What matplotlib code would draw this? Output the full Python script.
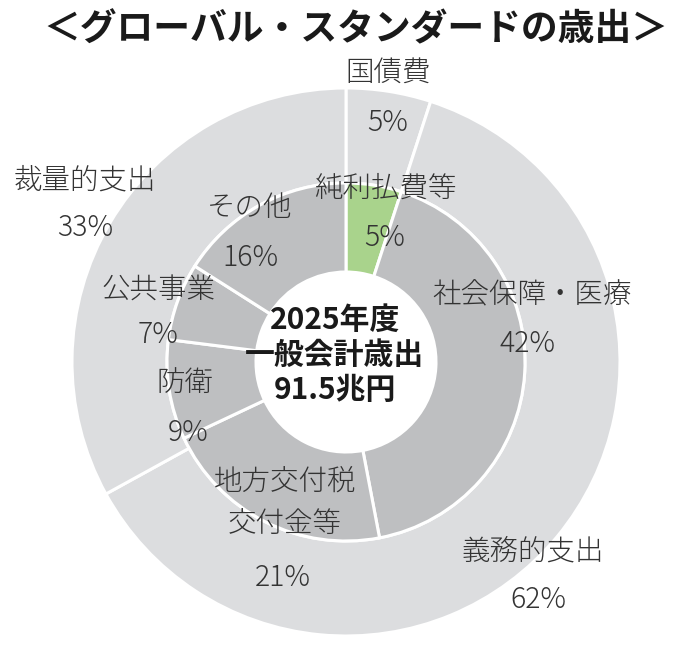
import matplotlib
matplotlib.use("Agg")
import matplotlib.pyplot as plt

plt.rcParams['font.family'] = ['Noto Sans CJK JP', 'DejaVu Sans']

# outer ring: 国債費 / 義務的支出 / 裁量的支出
outer_labels = ['国債費', '義務的支出', '裁量的支出']
outer_values = [5, 62, 33]

# inner ring
inner_labels = ['純利払費等', '社会保障・医療', '地方交付税\n交付金等', '防衛', '公共事業', 'その他']
inner_values = [5, 42, 21, 9, 7, 16]

title = '＜グローバル・スタンダードの歳出＞'
center_text = ['2025年度', '一般会計歳出', '91.5兆円']

W, H = 688, 650
fig = plt.figure(figsize=(W / 100, H / 100), dpi=100)
ax = fig.add_axes([0, 0, 1, 1])

cx, cy = 346, H - 362
r_out, r_mid, r_in = 274, 179, 90

outer_colors = ['#dcdddf'] * len(outer_values)
inner_colors = ['#a9d38c'] + ['#bebfc1'] * (len(inner_values) - 1)

ax.pie(outer_values, radius=r_out, center=(cx, cy), startangle=90, counterclock=False,
       colors=outer_colors,
       wedgeprops=dict(width=r_out - r_mid, edgecolor='white', linewidth=2.2))
ax.pie(inner_values, radius=r_mid, center=(cx, cy), startangle=90, counterclock=False,
       colors=inner_colors,
       wedgeprops=dict(width=r_mid - r_in, edgecolor='white', linewidth=2.2))

ax.set_xlim(0, W)
ax.set_ylim(0, H)
ax.set_aspect('equal')
ax.axis('off')

txt_color = '#333333'
fs = 20.5


def put(x, y, s, **kw):
    # y given in image pixels (top = 0)
    ax.text(x, H - y, s, ha='center', va='center', color=txt_color, fontsize=fs,
            fontweight='light', **kw)


# outer labels (name, value)
outer_pos = [((388, 72), (388, 123)), ((533, 551), (538, 600)), ((85, 180), (85, 228))]
for name, val, (p1, p2) in zip(outer_labels, outer_values, outer_pos):
    put(*p1, name)
    put(*p2, f'{val}%')

inner_pos = [((385, 188), (385, 238)), ((532, 295), (527, 344)),
             ((285, 503), (283, 578)), ((185, 383), (188, 433)),
             ((158, 290), (158, 335)), ((250, 208), (250, 258))]
for name, val, (p1, p2) in zip(inner_labels, inner_values, inner_pos):
    put(*p1, name, linespacing=1.5)
    put(*p2, f'{val}%')

for s, y in zip(center_text, [320, 355, 390]):
    ax.text(335, H - y, s, ha='center', va='center', color='#1a1a1a',
            fontsize=21.5, fontweight='bold')

ax.text(356, H - 30, title, ha='center', va='center', color='#1a1a1a',
        fontsize=26.5, fontweight='bold')

fig.savefig('out.png', dpi=100)
